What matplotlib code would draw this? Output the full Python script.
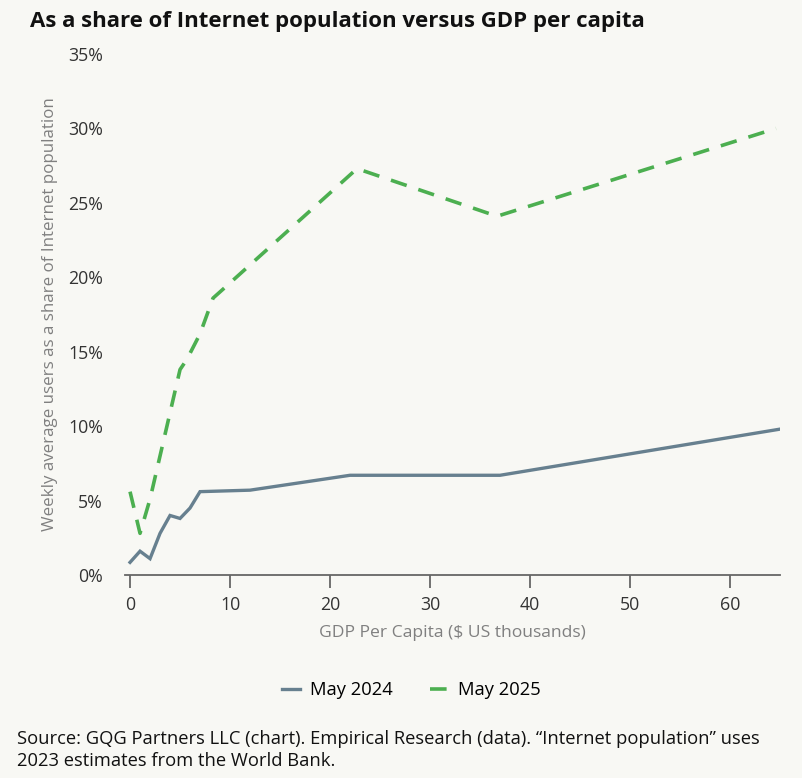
import matplotlib
matplotlib.use("Agg")
import matplotlib.pyplot as plt
from matplotlib.ticker import FuncFormatter

plt.rcParams['font.family'] = ['Open Sans', 'DejaVu Sans']

# GDP per capita ($ US thousands) and weekly users share (%)
gdp_2024 = [0, 1, 2, 3, 4, 5, 6, 7, 12, 22, 37, 65]
share_2024 = [0.85, 1.6, 1.1, 2.8, 4.0, 3.8, 4.5, 5.6, 5.7, 6.7, 6.7, 9.8]

gdp_2025 = [0, 1, 2, 5, 5.7, 7, 8.3, 9.3, 22.7, 36.7, 64.6]
share_2025 = [5.6, 2.8, 5.1, 13.8, 14.5, 16.2, 18.6, 19.2, 27.3, 24.1, 30.0]

x_ticks = [0, 10, 20, 30, 40, 50, 60]
y_ticks = [0, 5, 10, 15, 20, 25, 30, 35]

bg = '#f8f8f4'
blue = '#67808f'
green = '#4caf50'

fig = plt.figure(figsize=(8.02, 7.78), dpi=100, facecolor=bg)
ax = fig.add_axes([0.1559, 0.2609, 0.8167, 0.6697], facecolor=bg)

ax.plot(gdp_2024, share_2024, color=blue, lw=2.4, solid_joinstyle='miter', label='May 2024')
ax.plot(gdp_2025, share_2025, color=green, lw=2.6, dashes=(4.6, 3.4), label='May 2025')

ax.set_xlim(-0.5, 65)
ax.set_ylim(0, 35)
ax.set_xticks(x_ticks)
ax.set_yticks(y_ticks)
ax.yaxis.set_major_formatter(FuncFormatter(lambda v, p: f'{int(v)}%'))

for s in ['top', 'right', 'left']:
    ax.spines[s].set_visible(False)
ax.spines['bottom'].set_color('#666666')
ax.spines['bottom'].set_linewidth(1.3)
ax.tick_params(axis='x', length=9, width=1.3, color='#666666', labelsize=12.8,
               labelcolor='#333333', pad=6)
ax.tick_params(axis='y', length=0, labelsize=12.8, labelcolor='#333333', pad=16)

ax.set_xlabel('GDP Per Capita ($ US thousands)', fontsize=12.6, color='#808080', labelpad=8)
ax.set_ylabel('Weekly average users as a share of Internet population', fontsize=12.2,
              color='#808080', labelpad=7)

fig.text(0.038, 0.986, 'As a share of Internet population versus GDP per capita',
         fontsize=16, fontweight='bold', color='#111111', va='top', ha='left')

fig.legend(loc='center', bbox_to_anchor=(0.513, 0.113), ncol=2, frameon=False,
           fontsize=13.2, handlelength=1.0, columnspacing=2.0, handletextpad=0.55)

fig.text(0.021, 0.010,
         'Source: GQG Partners LLC (chart). Empirical Research (data). \u201cInternet population\u201d uses\n'
         '2023 estimates from the World Bank.',
         fontsize=13.2, color='#111111', ha='left', va='bottom', linespacing=1.3)

fig.savefig('out.png', dpi=100, facecolor=bg)
